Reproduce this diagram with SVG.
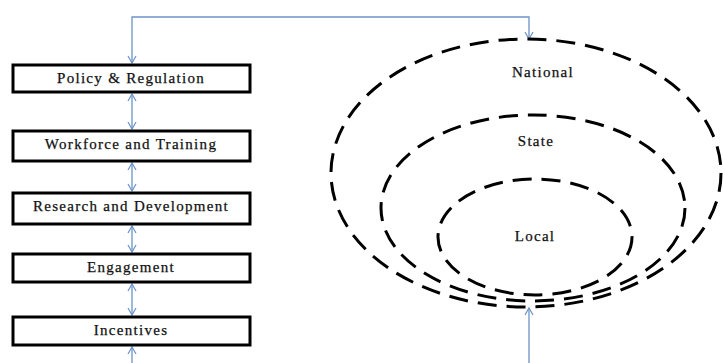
<svg xmlns="http://www.w3.org/2000/svg" width="723" height="363" viewBox="0 0 723 363">
<defs>
<marker id="ah" markerWidth="10" markerHeight="10" refX="8" refY="5" orient="auto-start-reverse" markerUnits="userSpaceOnUse">
<path d="M1,1 L8,5 L1,9" fill="none" stroke="#6b93c7" stroke-width="1.2"/>
</marker>
<style>
.box{fill:#fff;stroke:#000;stroke-width:3}
.t{font-family:"Liberation Serif","Times New Roman",serif;font-size:15px;letter-spacing:1.3px;fill:#111;stroke:#111;stroke-width:0.25;text-anchor:middle}
.c{fill:none;stroke:#6b93c7;stroke-width:1.3}
.ring{fill:none;stroke:#000;stroke-width:3;stroke-dasharray:19 10}
</style>
</defs>
<g id="connectors">
<path class="c" d="M132,63 L132,17 L529,17 L529,39" marker-start="url(#ah)" marker-end="url(#ah)"/>
<path class="c" d="M132,94 L132,129" marker-start="url(#ah)" marker-end="url(#ah)"/>
<path class="c" d="M132,163 L132,191" marker-start="url(#ah)" marker-end="url(#ah)"/>
<path class="c" d="M132,226 L132,252" marker-start="url(#ah)" marker-end="url(#ah)"/>
<path class="c" d="M132,284 L132,315" marker-start="url(#ah)" marker-end="url(#ah)"/>
<path class="c" d="M132,363 L132,347" marker-end="url(#ah)"/>
<path class="c" d="M529,363 L529,308" marker-end="url(#ah)"/>
</g>
<g id="national">
<ellipse class="ring" cx="526" cy="173" rx="195" ry="134"/>
<text class="t" x="543" y="77">National</text>
</g>
<g id="state">
<ellipse class="ring" cx="533" cy="208" rx="152" ry="93"/>
<text class="t" x="536" y="146">State</text>
</g>
<g id="local">
<ellipse class="ring" cx="535" cy="237" rx="97" ry="58"/>
<text class="t" x="535" y="241">Local</text>
</g>
<g id="policy">
<rect class="box" x="13" y="65" width="237" height="27"/>
<text class="t" x="131" y="83">Policy &amp; Regulation</text>
</g>
<g id="workforce">
<rect class="box" x="13" y="131" width="237" height="30"/>
<text class="t" x="131" y="149">Workforce and Training</text>
</g>
<g id="research">
<rect class="box" x="13" y="193" width="237" height="31"/>
<text class="t" x="131" y="211">Research and Development</text>
</g>
<g id="engagement">
<rect class="box" x="13" y="254" width="237" height="28"/>
<text class="t" x="131" y="272">Engagement</text>
</g>
<g id="incentives">
<rect class="box" x="13" y="317" width="237" height="28"/>
<text class="t" x="131" y="335">Incentives</text>
</g>
</svg>
